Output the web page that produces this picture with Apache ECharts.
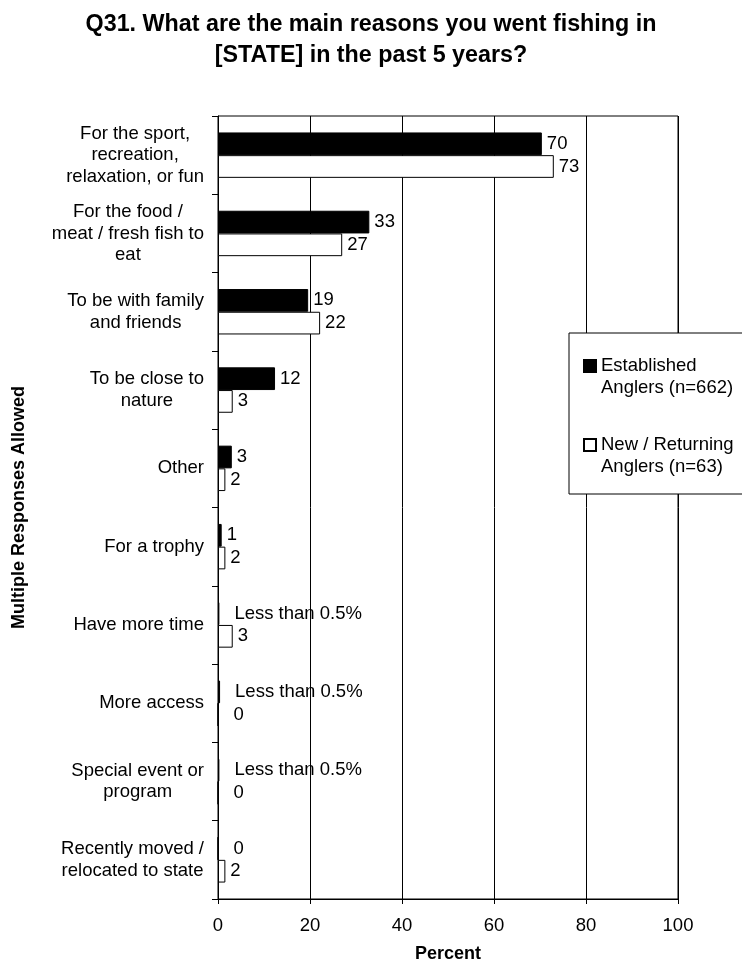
<!DOCTYPE html>
<html>
<head>
<meta charset="utf-8">
<script src="https://cdn.jsdelivr.net/npm/echarts@6/dist/echarts.min.js"></script>
<style>
html,body{margin:0;padding:0;background:#fff;}
#chart{width:742px;height:968px;}
</style>
</head>
<body>
<div id="chart"></div>
<script>
const titleText = 'Q31. What are the main reasons you went fishing in\n[STATE] in the past 5 years?';
const categories = [
  'For the sport,\nrecreation,\nrelaxation, or fun',
  'For the food /\nmeat / fresh fish to\neat',
  'To be with family\nand friends',
  'To be close to\nnature',
  'Other',
  'For a trophy',
  'Have more time',
  'More access',
  'Special event or\nprogram',
  'Recently moved /\nrelocated to state'
];
const seriesNames = ['Established\nAnglers (n=662)', 'New / Returning\nAnglers (n=63)'];
const established = [70.4, 32.9, 19.6, 12.4, 3.0, 0.8, 0.3, 0.45, 0.3, 0];
const newReturning = [73.0, 27.0, 22.2, 3.2, 1.6, 1.6, 3.2, 0, 0, 1.6];
const establishedLabels = ['70', '33', '19', '12', '3', '1', 'Less than 0.5%', 'Less than 0.5%', 'Less than 0.5%', '0'];
const newReturningLabels = ['73', '27', '22', '3', '2', '2', '3', '0', '0', '2'];
const xTicks = {min: 0, max: 100, interval: 20};

const FONT = "'Liberation Sans', Arial, sans-serif";
const FS = 18.5;

function buildData(values) {
  return values.map(function (v) {
    const item = {value: v};
    if (v < 0.5) item.label = {offset: [10, 0]};
    return item;
  });
}

const chart = echarts.init(document.getElementById('chart'), null, {renderer: 'canvas'});
const option = {
  animation: false,
  backgroundColor: '#fff',
  title: {
    text: titleText,
    left: 'center',
    top: 4,
    textStyle: {fontFamily: FONT, fontSize: 23.3, fontWeight: 'bold', color: '#000', lineHeight: 31}
  },
  grid: {left: 218, right: 64, top: 116, bottom: 67, show: true, borderColor: '#000', borderWidth: 1, backgroundColor: 'transparent'},
  legend: {
    orient: 'vertical',
    left: 569,
    top: 333,
    padding: [0, 40, 16, 14],
    itemWidth: 12,
    itemHeight: 12,
    itemGap: 13,
    icon: 'rect',
    borderColor: '#000',
    borderWidth: 1,
    backgroundColor: '#fff',
    data: seriesNames,
    formatter: function (n) { return '\n' + n; },
    textStyle: {fontFamily: FONT, fontSize: FS, color: '#000', lineHeight: 22}
  },
  xAxis: {
    type: 'value',
    min: xTicks.min,
    max: xTicks.max,
    interval: xTicks.interval,
    axisLine: {show: true, lineStyle: {color: '#000', width: 1}},
    axisTick: {show: true, length: 5, lineStyle: {color: '#000'}},
    splitLine: {show: true, lineStyle: {color: '#000', width: 1}},
    axisLabel: {fontFamily: FONT, fontSize: FS, color: '#000', margin: 17},
    name: 'Percent',
    nameLocation: 'middle',
    nameGap: 46,
    nameTextStyle: {fontFamily: FONT, fontSize: 18, fontWeight: 'bold', color: '#000'}
  },
  yAxis: {
    type: 'category',
    data: categories,
    inverse: true,
    axisLine: {show: true, lineStyle: {color: '#000', width: 1}},
    axisTick: {show: true, length: 6, lineStyle: {color: '#000'}},
    splitLine: {show: false},
    axisLabel: {
      interval: 0,
      margin: 14,
      align: 'right',
      formatter: function (v) {
        return v.split('\n').map(function (l) { return '{c|' + l + '}'; }).join('\n');
      },
      rich: {c: {align: 'center', fontFamily: FONT, fontSize: FS, lineHeight: 21.5, color: '#000'}}
    },
    name: 'Multiple Responses Allowed',
    nameLocation: 'middle',
    nameGap: 190,
    nameRotate: 90,
    nameTextStyle: {fontFamily: FONT, fontSize: 18, fontWeight: 'bold', color: '#000'}
  },
  series: [
    {
      name: seriesNames[0],
      type: 'bar',
      barGap: '0%',
      barCategoryGap: '42%',
      data: buildData(established),
      itemStyle: {color: '#000', borderColor: '#000', borderWidth: 1},
      label: {
        show: true, position: 'right', distance: 5,
        fontFamily: FONT, fontSize: FS, color: '#000',
        formatter: function (p) { return establishedLabels[p.dataIndex]; }
      }
    },
    {
      name: seriesNames[1],
      type: 'bar',
      barGap: '0%',
      barCategoryGap: '42%',
      data: buildData(newReturning),
      itemStyle: {color: '#fff', borderColor: '#000', borderWidth: 1},
      label: {
        show: true, position: 'right', distance: 5,
        fontFamily: FONT, fontSize: FS, color: '#000',
        formatter: function (p) { return newReturningLabels[p.dataIndex]; }
      }
    }
  ]
};
chart.setOption(option);
</script>
</body>
</html>
